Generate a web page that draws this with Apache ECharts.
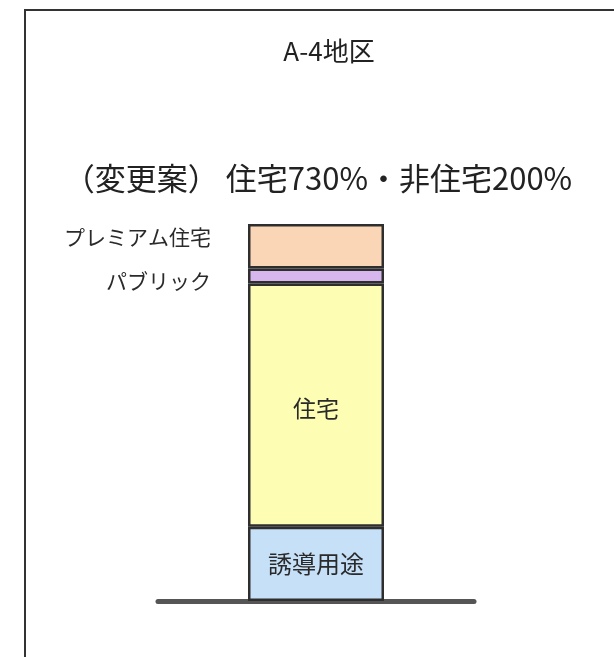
<!DOCTYPE html>
<html>
<head>
<meta charset="utf-8">
<script src="https://cdn.jsdelivr.net/npm/echarts@6/dist/echarts.min.js"></script>
<style>
html,body{margin:0;padding:0;background:#fff;}
#chart{width:614px;height:657px;}
</style>
</head>
<body>
<div id="chart"></div>
<script>
// Data
const categories = ['A-4地区'];
const seriesNames = ['誘導用途', '住宅', 'パブリック', 'プレミアム住宅'];
const inducedValues = [200];
const residentialValues = [655];
const publicValues = [40];
const premiumValues = [120];
const titleText = 'A-4地区';
const subtitleText = '（変更案） 住宅730%・非住宅200%';

const total = inducedValues[0] + residentialValues[0] + publicValues[0] + premiumValues[0];
const FONT = '"Noto Sans CJK JP", "Noto Sans", sans-serif';
const border = { borderColor: '#2e2e2e', borderWidth: 2.5 };

const chart = echarts.init(document.getElementById('chart'), null, { renderer: 'canvas' });
chart.setOption({
  backgroundColor: '#ffffff',
  animation: false,
  title: [
    { text: titleText, left: 324, top: 33, textAlign: 'center',
      textStyle: { fontFamily: FONT, fontSize: 26, fontWeight: 'normal', color: '#222' } },
    { text: subtitleText, left: 313, top: 158, textAlign: 'center',
      textStyle: { fontFamily: FONT, fontSize: 31, fontWeight: 'normal', color: '#222' } }
  ],
  graphic: [
    { type: 'polyline', shape: { points: [[25, 657], [25, 10], [614, 10]] },
      style: { stroke: '#333', lineWidth: 2, fill: null } }
  ],
  grid: { left: 158, right: 140, top: 224, bottom: 56, containLabel: false },
  xAxis: {
    type: 'category', data: categories,
    axisLine: { show: true, lineStyle: { color: '#555', width: 5 } },
    axisTick: { show: false }, axisLabel: { show: false }
  },
  yAxis: { type: 'value', min: 0, max: total, show: false, splitLine: { show: false } },
  series: [
    { name: seriesNames[0], type: 'bar', stack: 's', data: inducedValues, barWidth: 136,
      itemStyle: Object.assign({ color: '#c6e0f7' }, border),
      label: { show: true, position: 'inside', formatter: seriesNames[0],
        fontFamily: FONT, fontSize: 24, color: '#2a2a2a' } },
    { name: seriesNames[1], type: 'bar', stack: 's', data: residentialValues, barWidth: 136,
      itemStyle: Object.assign({ color: '#fdfdb4' }, border),
      label: { show: true, position: 'inside', formatter: seriesNames[1], offset: [0, 3],
        fontFamily: FONT, fontSize: 23, color: '#2a2a2a' } },
    { name: seriesNames[2], type: 'bar', stack: 's', data: publicValues, barWidth: 136,
      itemStyle: Object.assign({ color: '#d7b6ee' }, border),
      label: { show: true, position: 'left', distance: 37, offset: [0, 5], formatter: seriesNames[2],
        fontFamily: FONT, fontSize: 21, color: '#2a2a2a' } },
    { name: seriesNames[3], type: 'bar', stack: 's', data: premiumValues, barWidth: 136,
      itemStyle: Object.assign({ color: '#fbd6b6' }, border),
      label: { show: true, position: 'left', distance: 37, offset: [0, -9], formatter: seriesNames[3],
        fontFamily: FONT, fontSize: 21, color: '#2a2a2a' } }
  ]
});
</script>
</body>
</html>
